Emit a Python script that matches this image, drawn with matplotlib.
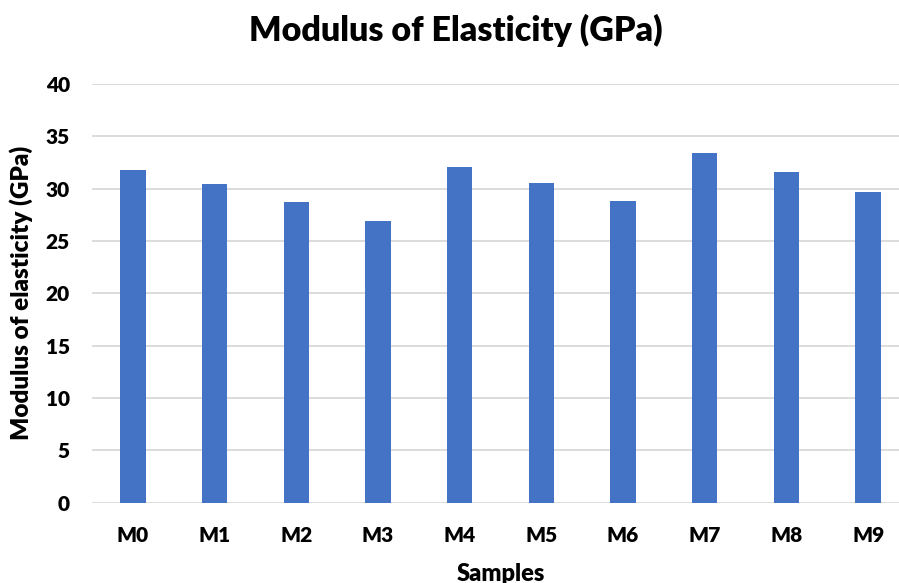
import matplotlib.pyplot as plt
import numpy as np

samples = ['M0', 'M1', 'M2', 'M3', 'M4', 'M5', 'M6', 'M7', 'M8', 'M9']
modulus = [31.8, 30.4, 28.7, 26.9, 32.1, 30.5, 28.8, 33.4, 31.6, 29.7]
y_ticks = [0, 5, 10, 15, 20, 25, 30, 35, 40]

plt.rcParams['font.family'] = ['Lato', 'DejaVu Sans']

fig = plt.figure(figsize=(8.99, 5.83), dpi=100)
ax = fig.add_axes([92 / 899, 0.1377, 817 / 899, 0.7183])

x = np.arange(len(samples))
ax.bar(x, modulus, width=0.31, color='#4472c4', zorder=3)

ax.set_xlim(-0.5, len(samples) - 0.5)
ax.set_ylim(0, 40)
ax.set_yticks(y_ticks)
ax.set_xticks(x)
ax.set_xticklabels(samples, fontsize=15, fontweight='heavy')
ax.set_yticklabels([str(t) for t in y_ticks], fontsize=15, fontweight='heavy')
ax.yaxis.grid(True, color='#d9d9d9', linewidth=1.3, zorder=0)
for s in ['top', 'right', 'left', 'bottom']:
    ax.spines[s].set_visible(False)
ax.tick_params(axis='both', length=0)
ax.tick_params(axis='y', pad=16)
ax.tick_params(axis='x', pad=17)

ax.set_xlabel('Samples', fontsize=17, fontweight='heavy', labelpad=13)
ax.set_ylabel('Modulus of elasticity (GPa)', fontsize=17.5, fontweight='heavy', labelpad=9)
fig.text(0.507, 0.947, 'Modulus of Elasticity (GPa)', ha='center', va='center',
         fontsize=24.5, fontweight='heavy')

plt.savefig('out.png', dpi=100)
